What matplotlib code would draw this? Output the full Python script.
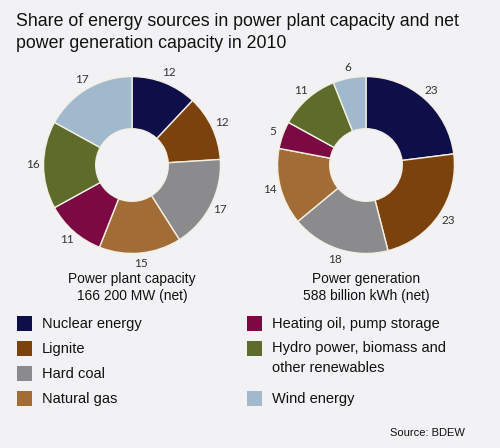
import matplotlib.pyplot as plt
from matplotlib.patches import Rectangle

sources = ['Nuclear energy', 'Lignite', 'Hard coal', 'Natural gas',
           'Heating oil, pump storage', 'Hydro power, biomass and\nother renewables',
           'Wind energy']
colors = ['#0e0e48', '#7b420d', '#8b8b8d', '#a26c36', '#7c0a42', '#5d6b2b', '#a0b9cd']
capacity = [12, 12, 17, 15, 11, 16, 17]
generation = [23, 23, 18, 14, 5, 11, 6]

W, H = 500, 448
bg = '#f2f2f4'
fig = plt.figure(figsize=(W / 100, H / 100), dpi=100, facecolor=bg)


def px_axes(cx, cy, half):
    # cx, cy in pixels from top-left
    return fig.add_axes([(cx - half) / W, (H - cy - half) / H, 2 * half / W, 2 * half / H])


def donut(cx, cy, values, lines):
    ax = px_axes(cx, cy, 115)
    ax.set_facecolor(bg)
    wedges, texts = ax.pie(values, colors=colors, startangle=90, counterclock=False,
                           radius=1, labels=[str(v) for v in values], labeldistance=1.12,
                           wedgeprops=dict(width=0.59, edgecolor='#f3efe4', linewidth=1),
                           textprops=dict(fontsize=8.5, color='#333333', family='Lato',
                                          ha='center', va='center'))
    for t in texts:
        t.set_ha('center')
    ax.set_xlim(-1.3, 1.3)
    ax.set_ylim(-1.3, 1.3)
    ax.set_aspect('equal')
    ax.axis('off')
    fig.text(cx / W, 1 - 279 / H, lines[0], ha='center', va='center', fontsize=9.9,
             family='Liberation Sans', color='#111111')
    fig.text(cx / W, 1 - 296 / H, lines[1], ha='center', va='center', fontsize=9.9,
             family='Liberation Sans', color='#111111')


donut(132, 165, capacity, ['Power plant capacity', '166 200 MW (net)'])
donut(366, 165, generation, ['Power generation', '588 billion kWh (net)'])

fig.text(16 / W, 1 - 21 / H, 'Share of energy sources in power plant capacity and net',
         ha='left', va='center', fontsize=12.8, family='Liberation Sans', color='#111111')
fig.text(16 / W, 1 - 44 / H, 'power generation capacity in 2010',
         ha='left', va='center', fontsize=12.8, family='Liberation Sans', color='#111111')

# legend
rows = [323, 348, 373, 398, 323, 348, 398]
cols = [17, 17, 17, 17, 247, 247, 247]
for name, c, x, y in zip(sources, colors, cols, rows):
    fig.patches.append(Rectangle((x / W, 1 - (y + 7.5) / H), 15 / W, 15 / H,
                                 transform=fig.transFigure, facecolor=c,
                                 edgecolor='none'))
    if '\n' in name:
        fig.text((x + 25) / W, 1 - (y - 7) / H, name, ha='left', va='top',
                 fontsize=10.5, family='Liberation Sans', color='#111111', linespacing=1.5)
    else:
        fig.text((x + 25) / W, 1 - (y + 1) / H, name, ha='left', va='center',
                 fontsize=10.5, family='Liberation Sans', color='#111111')

fig.text(465 / W, 1 - 433 / H, 'Source: BDEW', ha='right', va='center', fontsize=8,
         family='Liberation Sans', color='#111111')

fig.savefig('out.png', dpi=100, facecolor=bg)
